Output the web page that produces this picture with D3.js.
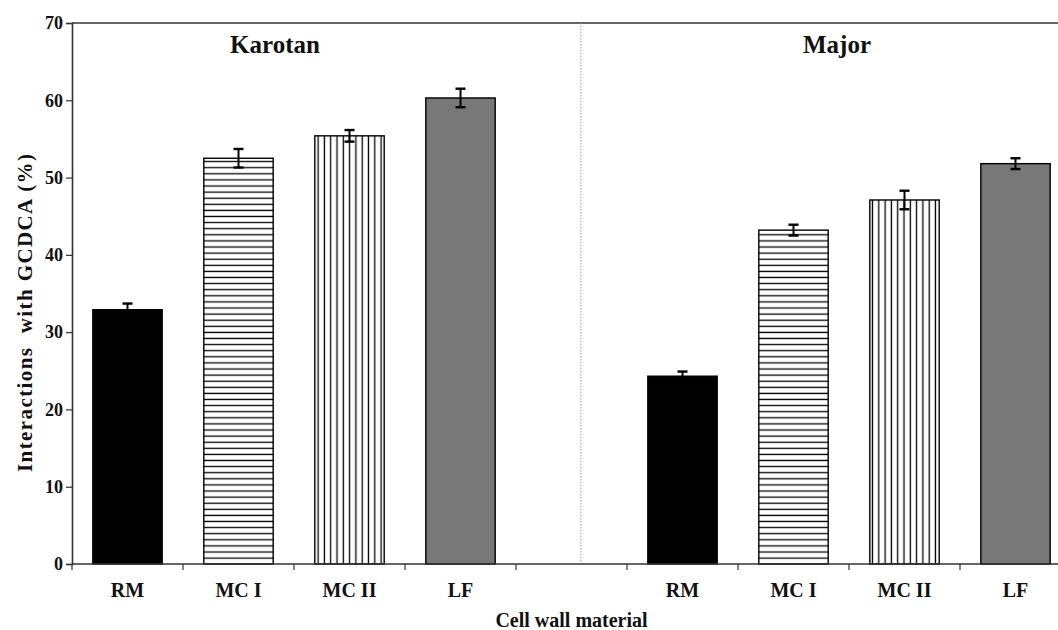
<!DOCTYPE html>
<html>
<head>
<meta charset="utf-8">
<script src="https://cdn.jsdelivr.net/npm/d3@7/dist/d3.min.js"></script>
<style>
  html, body { margin: 0; padding: 0; background: #fff; }
  svg { display: block; font-family: "Liberation Serif", "Times New Roman", serif; }
</style>
</head>
<body>
<svg id="chart" width="1058" height="630"></svg>
<script>
// Bile-acid (GCDCA) binding of cell wall fractions, two cultivars
const categories = ["RM", "MC I", "MC II", "LF"];
const cultivars = ["Karotan", "Major"];
const karotanValues = [32.9, 52.5, 55.4, 60.3];
const karotanErrors = [0.8, 1.2, 0.75, 1.2];
const majorValues = [24.3, 43.2, 47.1, 51.8];
const majorErrors = [0.6, 0.7, 1.2, 0.7];
const yTicks = [0, 10, 20, 30, 40, 50, 60, 70];
const yLabel = "Interactions  with GCDCA (%)";
const xLabel = "Cell wall material";

const svg = d3.select("#chart");
const margin = { left: 72, top: 23, bottom: 66 };
const plotRight = 1071;           // frame continues past the page edge
const H = 630;
const yBottom = H - margin.bottom;

// nine slots: four per cultivar with an empty slot between the groups
const slots = [
  ...categories.map(c => "Karotan|" + c),
  "gap",
  ...categories.map(c => "Major|" + c)
];

const x = d3.scaleBand().domain(slots).range([margin.left, plotRight]).paddingInner(0).paddingOuter(0);
const y = d3.scaleLinear().domain([0, 70]).range([yBottom, margin.top]);

const bars = [
  ...categories.map((c, i) => ({ cultivar: "Karotan", cat: c, i, v: karotanValues[i], e: karotanErrors[i] })),
  ...categories.map((c, i) => ({ cultivar: "Major", cat: c, i, v: majorValues[i], e: majorErrors[i] }))
];

// fill patterns
const defs = svg.append("defs");
const hp = defs.append("pattern").attr("id", "hstripes").attr("patternUnits", "userSpaceOnUse")
  .attr("width", 8).attr("height", 6.1);
hp.append("rect").attr("width", 8).attr("height", 6.1).attr("fill", "#fff");
hp.append("line").attr("x1", 0).attr("x2", 8).attr("y1", 3).attr("y2", 3)
  .attr("stroke", "#000").attr("stroke-width", 1.3);
const vp = defs.append("pattern").attr("id", "vstripes").attr("patternUnits", "userSpaceOnUse")
  .attr("width", 6.3).attr("height", 8);
vp.append("rect").attr("width", 6.3).attr("height", 8).attr("fill", "#fff");
vp.append("line").attr("y1", 0).attr("y2", 8).attr("x1", 3.1).attr("x2", 3.1)
  .attr("stroke", "#000").attr("stroke-width", 1.3);

const fills = ["#000", "url(#hstripes)", "url(#vstripes)", "#787878"];

// frame: top border
svg.append("line")
  .attr("x1", margin.left).attr("x2", plotRight)
  .attr("y1", y(70)).attr("y2", y(70))
  .attr("stroke", "#333").attr("stroke-width", 1.6);

// separator between cultivars
const gapX = x("gap") + x.bandwidth() * 0.585;
svg.append("line")
  .attr("x1", gapX).attr("x2", gapX)
  .attr("y1", y(70)).attr("y2", y(0))
  .attr("stroke", "#999").attr("stroke-width", 1).attr("stroke-dasharray", "1.5,1.5");

// bars
const barW = x.bandwidth() * 0.625;
svg.append("g").selectAll("rect").data(bars).join("rect")
  .attr("x", d => x(d.cultivar + "|" + d.cat) + (x.bandwidth() - barW) / 2)
  .attr("y", d => y(d.v))
  .attr("width", barW)
  .attr("height", d => y(0) - y(d.v))
  .attr("fill", d => fills[d.i])
  .attr("stroke", "#000")
  .attr("stroke-width", 1.4);

// error bars
const eb = svg.append("g").selectAll("g").data(bars).join("g")
  .attr("transform", d => `translate(${x(d.cultivar + "|" + d.cat) + x.bandwidth() / 2},0)`);
eb.append("line")
  .attr("y1", d => y(d.v + d.e)).attr("y2", d => y(d.v - d.e))
  .attr("stroke", "#000").attr("stroke-width", 2);
eb.append("line")
  .attr("x1", -5).attr("x2", 5)
  .attr("y1", d => y(d.v + d.e)).attr("y2", d => y(d.v + d.e))
  .attr("stroke", "#000").attr("stroke-width", 2.4);
eb.append("line")
  .attr("x1", -5).attr("x2", 5)
  .attr("y1", d => y(d.v - d.e)).attr("y2", d => y(d.v - d.e))
  .attr("stroke", "#000").attr("stroke-width", 2.4);

// y axis
const yAxis = svg.append("g")
  .attr("transform", `translate(${margin.left},0)`)
  .call(d3.axisLeft(y).tickValues(yTicks).tickFormat(d3.format("d")).tickSize(6).tickPadding(3));
yAxis.select(".domain").attr("stroke", "#333").attr("stroke-width", 1.6);
yAxis.selectAll(".tick line").attr("stroke", "#333").attr("stroke-width", 1.2);
yAxis.selectAll(".tick text").attr("font-size", 18).attr("font-weight", "bold")
  .attr("fill", "#111").attr("font-family", "Liberation Serif, serif");

// x axis: ticks at slot boundaries, labels centred in slots
const xAxisG = svg.append("g").attr("transform", `translate(0,${yBottom})`);
xAxisG.append("line").attr("x1", margin.left).attr("x2", plotRight)
  .attr("stroke", "#333").attr("stroke-width", 1.6);
xAxisG.selectAll("line.tk").data(slots).join("line").attr("class", "tk")
  .attr("x1", d => x(d)).attr("x2", d => x(d))
  .attr("y1", 0).attr("y2", 6)
  .attr("stroke", "#333").attr("stroke-width", 1.2);
xAxisG.selectAll("text").data(bars).join("text")
  .attr("x", d => x(d.cultivar + "|" + d.cat) + x.bandwidth() / 2)
  .attr("y", 33)
  .attr("text-anchor", "middle")
  .attr("font-size", 20).attr("font-weight", "bold").attr("fill", "#111")
  .text(d => d.cat);

// cultivar titles
const titlePos = { "Karotan": x("Karotan|MC II") - 19, "Major": x("Major|MC II") - 12 };
svg.selectAll("text.title").data(cultivars).join("text").attr("class", "title")
  .attr("x", d => titlePos[d])
  .attr("y", 53)
  .attr("text-anchor", "middle")
  .attr("font-size", 25).attr("font-weight", "bold").attr("fill", "#111")
  .text(d => d);

// axis titles
svg.append("text")
  .attr("x", (margin.left + plotRight) / 2)
  .attr("y", 627)
  .attr("text-anchor", "middle")
  .attr("font-size", 20).attr("font-weight", "bold").attr("fill", "#111")
  .text(xLabel);

svg.append("text")
  .attr("transform", "translate(32,472) rotate(-90)")
  .attr("text-anchor", "start")
  .attr("font-size", 21).attr("font-weight", "bold").attr("fill", "#111")
  .attr("textLength", 318).attr("lengthAdjust", "spacing")
  .style("white-space", "pre")
  .text(yLabel);
</script>
</body>
</html>
